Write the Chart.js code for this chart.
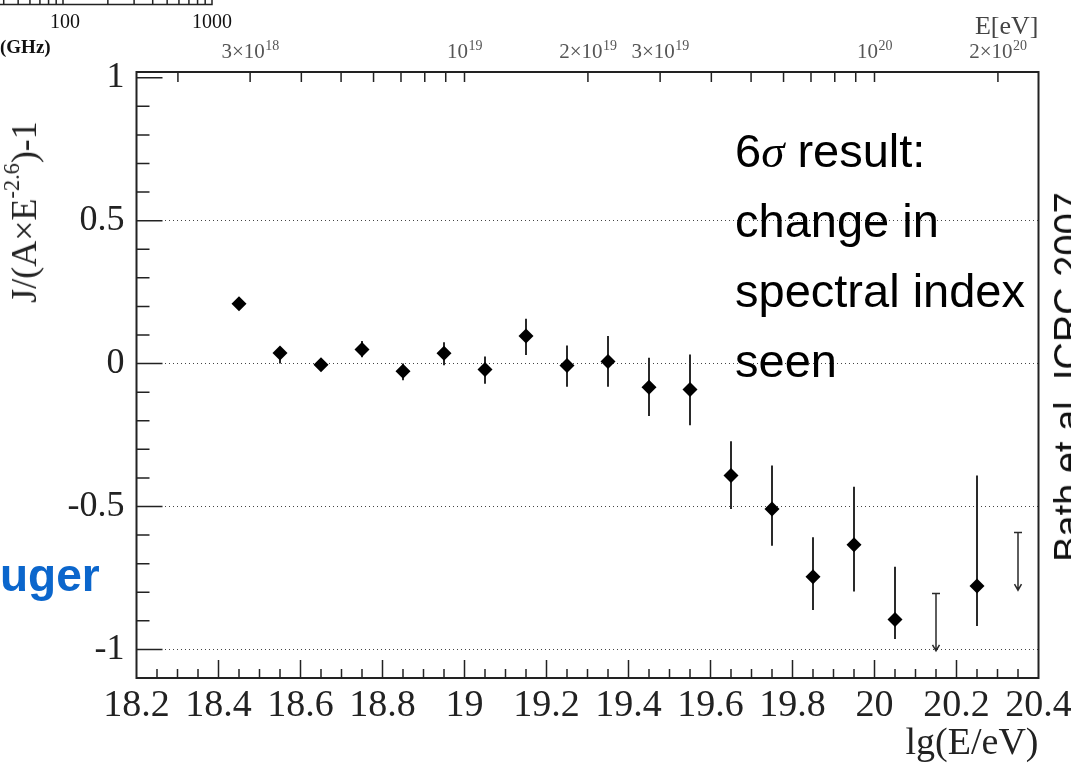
<!DOCTYPE html>
<html><head><meta charset="utf-8">
<script src="https://cdn.jsdelivr.net/npm/chart.js@4.4.1/dist/chart.umd.min.js"></script>
<style>
html,body{margin:0;padding:0;background:#fff;}
#wrap{position:relative;width:1071px;height:767px;overflow:hidden;background:#fff;}
canvas{position:absolute;left:0;top:0;}
.t{position:absolute;white-space:nowrap;line-height:1;}
.serif{font-family:'Liberation Serif','Times New Roman',serif;}
.sans{font-family:'Liberation Sans',Arial,sans-serif;}
</style></head><body>
<div id="wrap">
<canvas id="c" width="1071" height="767"></canvas>
<div class="t serif" style="left:65px;top:21px;transform:translate(-50%,-50%);font-size:20px;color:#111;">100</div>
<div class="t serif" style="left:212px;top:21px;transform:translate(-50%,-50%);font-size:20px;color:#111;">1000</div>
<div class="t serif" style="left:0px;top:46px;transform:translate(0,-50%);font-size:19px;font-weight:bold;color:#111;">(GHz)</div>
<div class="t serif" id="ytitle" style="left:24px;top:212px;transform:translate(-50%,-50%) rotate(-90deg);font-size:36px;color:#222;">J/(A×E<sup style="font-size:0.62em;vertical-align:0.75em;line-height:0">-2.6</sup>)-1</div>
<div class="t sans" style="left:0px;top:552px;font-size:46px;font-weight:bold;color:#0b66cc;">uger</div>
<div class="t sans" style="left:735px;top:116px;font-size:47px;line-height:70px;color:#000;">6<i class="serif">σ</i> result:<br>change in<br>spectral index<br>seen</div>
<div class="t sans" style="left:1068px;top:377px;transform:translate(-50%,-50%) rotate(-90deg);font-size:38px;color:#111;">Bath et al. ICRC 2007</div>
</div>
<script>
// ---- data ----
const lgE   = [18.45,18.55,18.65,18.75,18.85,18.95,19.05,19.15,19.25,19.35,19.45,19.55,19.65,19.75,19.85,19.95,20.05,20.25];
const ratio = [0.209,0.037,-0.004,0.049,-0.027,0.036,-0.021,0.096,-0.007,0.007,-0.083,-0.091,-0.392,-0.509,-0.746,-0.634,-0.895,-0.778];
const errHigh = [0.222,0.050,0.008,0.079,0.000,0.075,0.025,0.157,0.063,0.096,0.020,0.032,-0.272,-0.357,-0.608,-0.431,-0.711,-0.392];
const errLow  = [0.196,0.000,-0.016,0.022,-0.058,-0.006,-0.071,0.030,-0.081,-0.081,-0.183,-0.216,-0.509,-0.637,-0.862,-0.797,-0.964,-0.918];
const limitE   = [20.15,20.35];
const limitTop = [-0.804,-0.591];
const limitTip = [-1.005,-0.793];

const xTickValues = [18.2,18.4,18.6,18.8,19,19.2,19.4,19.6,19.8,20,20.2,20.4];
const xTickLabels = ['18.2','18.4','18.6','18.8','19','19.2','19.4','19.6','19.8','20','20.2','20.4'];
const yTickValues = [-1,-0.5,0,0.5,1];
const yTickLabels = ['-1','-0.5','0','0.5','1'];
const topTickEnergies = [2e18,3e18,4e18,5e18,6e18,7e18,8e18,9e18,1e19,2e19,3e19,4e19,5e19,6e19,7e19,8e19,9e19,1e20,2e20];
const topTickBase = ['','3×10','','','','','','','10','2×10','3×10','','','','','','','10','2×10'];
const topTickExp  = ['','18','','','','','','','19','19','19','','','','','','','20','20'];
const gridValues = [-1,-0.5,0,0.5];
const fragFreqs = [40,50,60,70,80,90,100,200,300,400,500,600,700,800,900,1000];

const SERIF = "'Liberation Serif','Times New Roman',serif";

const framePlugin = {
  id: 'frame',
  beforeDatasetsDraw(chart) {
    const {ctx, scales:{x, y}} = chart;
    ctx.save();
    ctx.strokeStyle = '#2a2a2a';
    ctx.lineWidth = 2;
    lgE.forEach((e, i) => {
      const px = x.getPixelForValue(e);
      ctx.beginPath();
      ctx.moveTo(px, y.getPixelForValue(errHigh[i]));
      ctx.lineTo(px, y.getPixelForValue(errLow[i]));
      ctx.stroke();
    });
    ctx.lineWidth = 1.5;
    limitE.forEach((e, i) => {
      const px = x.getPixelForValue(e);
      const pt = y.getPixelForValue(limitTop[i]);
      const pb = y.getPixelForValue(limitTip[i]);
      ctx.beginPath();
      ctx.moveTo(px, pt); ctx.lineTo(px, pb);
      ctx.moveTo(px - 4, pt); ctx.lineTo(px + 4, pt);
      ctx.moveTo(px - 3.5, pb - 6); ctx.lineTo(px, pb); ctx.lineTo(px + 3.5, pb - 6);
      ctx.stroke();
    });
    ctx.restore();
  },
  afterDatasetsDraw(chart) {
    const {ctx, chartArea:a, scales:{x, y, x2}} = chart;
    ctx.save();
    ctx.strokeStyle = '#222';
    ctx.lineWidth = 1.5;
    ctx.beginPath();
    for (let k = -10; k <= 10; k++) {
      const py = y.getPixelForValue(k / 10);
      const len = (k % 5 === 0) ? 26 : 13;
      ctx.moveTo(a.left, py); ctx.lineTo(a.left + len, py);
    }
    for (let k = 1; k < 44; k++) {
      const px = x.getPixelForValue(18.2 + k * 0.05);
      const len = (k % 4 === 0) ? 18 : 9;
      ctx.moveTo(px, a.bottom); ctx.lineTo(px, a.bottom - len);
    }
    topTickEnergies.forEach(e => {
      const px = x2.getPixelForValue(Math.log10(e));
      ctx.moveTo(px, a.top); ctx.lineTo(px, a.top + 10);
    });
    ctx.stroke();
    ctx.lineWidth = 2;
    ctx.strokeRect(a.left, a.top, a.right - a.left, a.bottom - a.top);

    ctx.fillStyle = '#555';
    ctx.textBaseline = 'alphabetic';
    ctx.textAlign = 'left';
    const baseFont = '21px ' + SERIF, expFont = '14px ' + SERIF;
    topTickEnergies.forEach((e, i) => {
      if (!topTickBase[i]) return;
      const px = x2.getPixelForValue(Math.log10(e));
      ctx.font = baseFont; const wb = ctx.measureText(topTickBase[i]).width;
      ctx.font = expFont;  const we = ctx.measureText(topTickExp[i]).width;
      const x0 = px - (wb + we) / 2;
      ctx.font = baseFont; ctx.fillText(topTickBase[i], x0, 58);
      ctx.font = expFont;  ctx.fillText(topTickExp[i], x0 + wb + 0.5, 50);
    });
    ctx.restore();
  },
  afterDraw(chart) {
    const ctx = chart.ctx;
    ctx.save();
    ctx.strokeStyle = '#222';
    ctx.lineWidth = 1.5;
    ctx.beginPath();
    ctx.moveTo(0, 4.5); ctx.lineTo(212, 4.5); ctx.lineTo(212, 0);
    fragFreqs.forEach(f => {
      const px = 63 + 149 * Math.log10(f / 100);
      ctx.moveTo(px, 4.5); ctx.lineTo(px, 0);
    });
    ctx.stroke();
    ctx.restore();
  }
};

const noSidePad = s => { s.paddingLeft = 0; s.paddingRight = 0; };

new Chart(document.getElementById('c'), {
  type: 'scatter',
  data: {
    datasets: [{
      data: lgE.map((e, i) => ({x: e, y: ratio[i]})),
      pointStyle: 'rectRot',
      pointRadius: 7.5,
      pointHoverRadius: 7.5,
      backgroundColor: '#000',
      borderColor: '#000',
      borderWidth: 0
    }]
  },
  options: {
    responsive: false,
    animation: false,
    devicePixelRatio: 1,
    layout: {padding: {left: 0, right: 32.5, top: 0, bottom: 0}},
    plugins: {legend: {display: false}, tooltip: {enabled: false}},
    scales: {
      x: {
        type: 'linear', position: 'bottom', min: 18.2, max: 20.4,
        afterBuildTicks: s => { s.ticks = xTickValues.map(v => ({value: v})); },
        afterFit: s => { s.height = 89; noSidePad(s); },
        grid: {display: false}, border: {display: false},
        ticks: {autoSkip: false, maxRotation: 0, padding: 1, color: '#222',
          font: {family: SERIF, size: 38, lineHeight: 1}, callback: (v, i) => xTickLabels[i]},
        title: {display: true, text: 'lg(E/eV)', align: 'end', color: '#222',
          font: {family: SERIF, size: 38, lineHeight: 1}, padding: {top: 0, bottom: 4}}
      },
      x2: {
        type: 'linear', position: 'top', min: 18.2, max: 20.4,
        afterBuildTicks: s => { s.ticks = topTickEnergies.map(e => ({value: Math.log10(e)})); },
        afterFit: s => { s.height = 72; noSidePad(s); },
        grid: {display: false}, border: {display: false},
        ticks: {display: false},
        title: {display: true, text: 'E[eV]', align: 'end', color: '#444',
          font: {family: SERIF, size: 26}, padding: {top: 12, bottom: 0}}
      },
      y: {
        type: 'linear', position: 'left', min: -1.1, max: 1.02,
        afterBuildTicks: s => { s.ticks = yTickValues.map(v => ({value: v})); },
        afterFit: s => { s.width = 136.5; s.paddingTop = 0; s.paddingBottom = 0; },
        grid: {display: true, drawTicks: false, lineWidth: 1,
          color: c => (c.tick && gridValues.includes(c.tick.value)) ? '#444' : 'rgba(0,0,0,0)'},
        border: {display: false, dash: [1, 3]},
        ticks: {padding: 12, color: '#222', font: {family: SERIF, size: 36},
          callback: (v, i) => yTickLabels[i]}
      }
    }
  },
  plugins: [framePlugin]
});
</script>
</body></html>
